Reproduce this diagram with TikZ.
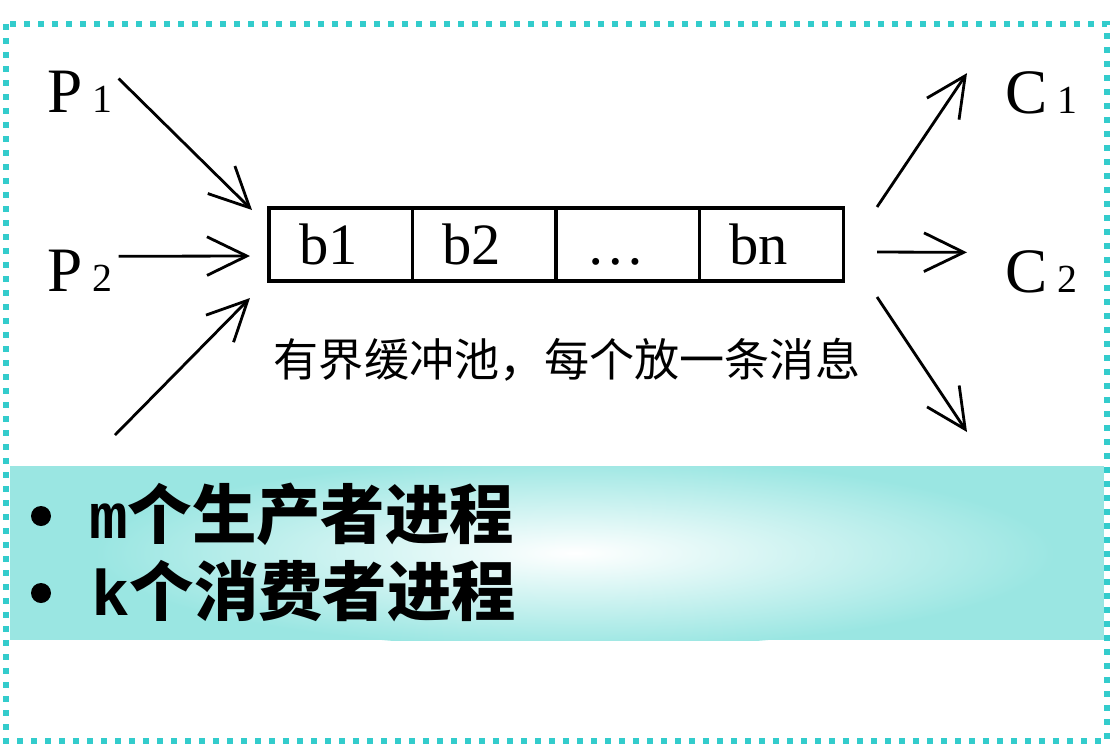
\documentclass[tikz,border=0pt]{standalone}
\usepackage{fontspec}
\setmainfont{Liberation Serif}
\newfontfamily\cjk{Noto Sans CJK SC}
\newfontfamily\monofnt{Liberation Mono}
\usetikzlibrary{arrows.meta,positioning}
\definecolor{dotteal}{RGB}{51,204,204}
\definecolor{bandteal}{RGB}{154,230,226}
\newcommand\pidx[1]{\hspace{9pt}{\fontsize{34}{34}\selectfont #1}}
\begin{document}
\begin{tikzpicture}[x=0.03cm,y=-0.03cm,
    every node/.style={inner sep=0pt,outer sep=0pt},
    cell/.style={draw,line width=2.6pt,minimum width=4.305cm,minimum height=2.19cm,
        text width=2.505cm,inner xsep=0.9cm,align=left,font=\fontsize{50}{50}\selectfont},
    big/.style={anchor=base west,font=\fontsize{54}{54}\selectfont},
    listtxt/.style={anchor=base west,font={\cjk\bfseries\fontsize{55}{55}\selectfont}},
    arr/.style={line width=2.4pt,-{Straight Barb[length=34pt,width=33pt]}}]
    \useasboundingbox (0,0) rectangle (1114,745);
    % Hintergrund: Band mit hellem Kern, dann der punktierte Rahmen.
    \fill[bandteal] (10,466) rectangle (1104,640);
    \begin{scope}
        \clip (10,466) rectangle (1104,640);
        \shade[inner color=white,outer color=bandteal] (575,553) ellipse [x radius=480,y radius=95];
    \end{scope}
    \draw[dotteal,line width=0.18cm,dash pattern=on 0.18cm off 0.24cm] (6,24) rectangle (1107,741);
    \node[big] (P1) at (47,112) {P\pidx{1}};
    \node[big] (P2) at (47,291) {P\pidx{2}};
    \node[big] (C1) at (1005,113) {C\pidx{1}};
    \node[big] (C2) at (1005,292) {C\pidx{2}};
    \node[cell] (b1) at (340.75,244.5) {\vphantom{b}b1};
    \node[cell,right=0pt of b1] (b2) {\vphantom{b}b2};
    \node[cell,right=0pt of b2] (b3) {\vphantom{b}…};
    \node[cell,right=0pt of b3] (bn) {\vphantom{b}bn};
    \node[font=\cjk\fontsize{38.5}{38.5}\selectfont] (cap) at (567,360) {有界缓冲池，每个放一条消息};
    \coordinate (p3) at (115,435);
    \coordinate (c3) at (967,432);
    \draw[arr] ([shift={(6,8)}]P1.north east) -- ([shift={(-17,2)}]b1.north west);
    \draw[arr] ([shift={(6,-14)}]P2.east) -- ([shift={(-19,11.5)}]b1.west);
    \draw[arr] (p3) -- ([shift={(-19,17)}]b1.south west);
    \draw[arr] ([shift={(34,-1)}]bn.north east) -- ([shift={(-38,2)}]C1.north west);
    \draw[arr] ([shift={(34,7.5)}]bn.east) -- ([shift={(-38,-19)}]C2.west);
    \draw[arr] ([shift={(34,16)}]bn.south east) -- (c3);
    % Aufzaehlung
    \fill (41,516) circle (10);
    \fill (41,593) circle (10);
    \node[listtxt] (mline) at (89,538) {{\monofnt\bfseries m}个生产者进程};
    \node[listtxt] (kline) at (91,615) {{\monofnt\bfseries k}个消费者进程};
\end{tikzpicture}
\end{document}
